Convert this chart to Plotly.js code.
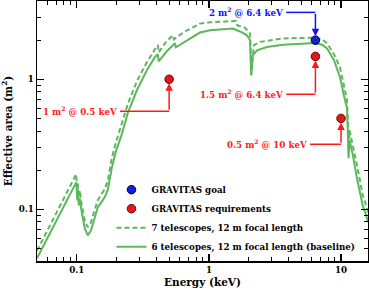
<!DOCTYPE html>
<html><head><meta charset="utf-8">
<script src="https://cdn.plot.ly/plotly-3.0.1.min.js"></script>
<style>html,body{margin:0;padding:0;background:#fff}#c{width:369px;height:290px}</style>
</head><body><div id="c"></div>
<script>
// 6 telescopes, 12 m focal length (baseline) - solid
const solidE = [0.05,0.099,0.101,0.102,0.1035,0.1053,0.109,0.115,0.121,0.128,0.135,0.144,0.155,0.163,0.172,0.184,0.197,0.219,0.243,0.285,0.339,0.390,0.411,0.417,0.480,0.553,0.562,0.645,0.757,0.855,1.02,1.21,1.52,1.63,1.78,1.94,2.05,2.09,2.15,2.31,2.75,3.63,4.88,6.35,7.2,7.86,8.85,9.81,10.5,11.1,11.3,11.4,11.6,12.3,13.2,13.9,14.6,15.5,16];
const solidA = [0.042,0.161,0.117,0.140,0.107,0.121,0.095,0.0713,0.063,0.0687,0.0822,0.1035,0.115,0.124,0.142,0.207,0.275,0.377,0.548,0.823,1.173,1.477,1.557,1.375,1.642,1.891,1.763,1.926,2.104,2.287,2.383,2.40,2.455,2.383,2.297,2.178,1.995,1.073,1.529,1.671,1.772,1.842,1.882,1.902,1.842,1.722,1.40,1.04,0.753,0.598,0.358,0.247,0.34,0.26,0.173,0.135,0.107,0.090,0.0794];
// 7 telescopes, 12 m focal length - dashed
const dashE = [0.05,0.099,0.101,0.102,0.1035,0.1053,0.109,0.115,0.121,0.128,0.135,0.144,0.155,0.163,0.172,0.184,0.197,0.219,0.243,0.285,0.339,0.390,0.411,0.417,0.472,0.533,0.543,0.645,0.757,0.855,1.02,1.21,1.49,1.60,1.64,1.87,2.05,2.09,2.19,2.44,3.63,4.88,6.35,7.2,7.86,8.85,9.81,10.5,11.1,11.3,11.4,11.6,12.3,13.2,13.9,14.6,15.5,16];
const dashA = [0.048,0.186,0.135,0.158,0.124,0.140,0.109,0.082,0.0727,0.0794,0.095,0.117,0.133,0.142,0.167,0.247,0.322,0.467,0.642,0.965,1.35,1.70,1.83,1.61,1.93,2.18,2.03,2.30,2.51,2.68,2.74,2.77,2.81,2.81,2.60,2.50,2.25,1.073,1.83,1.94,2.06,2.085,2.09,2.03,1.88,1.56,1.24,0.90,0.69,0.42,0.284,0.405,0.311,0.218,0.167,0.128,0.107,0.095];
// Requirement / goal points
const goalE = [6.4], goalA = [2];
const reqE = [0.5, 6.4, 10], reqA = [1, 1.5, 0.5];
const xTicks = [0.1, 1, 10], xTickText = ['0.1','1','10'];
const yTicks = [0.1, 1], yTickText = ['0.1','1'];
// callouts: label, point, elbow level, label end energy, colour
const callouts = [
  {text:'2 m<sup>2</sup> @ 6.4 keV', e:6.4, a:2, elbowA:3.27, textE:3.72, lineE:3.85, color:'#1010ff'},
  {text:'1.5 m<sup>2</sup> @ 6.4 keV', e:6.4, a:1.5, elbowA:0.767, textE:3.72, lineE:3.85, color:'#ff1a1a'},
  {text:'1 m<sup>2</sup> @ 0.5 keV', e:0.5, a:1, elbowA:0.567, textE:0.206, lineE:0.212, color:'#ff1a1a'},
  {text:'0.5 m<sup>2</sup> @ 10 keV', e:10, a:0.5, elbowA:0.316, textE:5.6, lineE:5.82, color:'#ff1a1a'}
];
const green = '#5cb85c';
const FONT = 'DejaVu Serif, serif';
const FS = 8.7;

const traces = [
  {x:solidE, y:solidA, mode:'lines', name:'6 telescopes, 12 m focal length (baseline)', line:{color:green, width:2}, legendrank:4},
  {x:dashE, y:dashA, mode:'lines', name:'7 telescopes, 12 m focal length', line:{color:green, width:2, dash:'5px,3px'}, legendrank:3},
  {x:reqE, y:reqA, mode:'markers', name:'GRAVITAS requirements', marker:{color:'#e3161c', size:8.5, line:{color:'#6a0000', width:1}}, legendrank:2},
  {x:goalE, y:goalA, mode:'markers', name:'GRAVITAS goal', marker:{color:'#1020e0', size:8.5, line:{color:'#000', width:1}}, legendrank:1}
];

const annotations = [], shapes = [];
callouts.forEach(c => {
  annotations.push({x:Math.log10(c.textE), y:Math.log10(c.elbowA), xref:'x', yref:'y', text:c.text, showarrow:false, xanchor:'right', yanchor:'middle', borderpad:0, font:{family:FONT, size:FS, color:c.color, weight:'bold'}});
  annotations.push({x:Math.log10(c.e), y:Math.log10(c.a), xref:'x', yref:'y', text:'', showarrow:true, axref:'pixel', ax:0, ayref:'y', ay:Math.log10(c.elbowA), arrowhead:2, arrowsize:1, arrowwidth:1.5, arrowcolor:c.color, standoff:4});
  shapes.push({type:'line', xref:'x', yref:'y', x0:c.lineE, x1:c.e, y0:c.elbowA, y1:c.elbowA, line:{color:c.color, width:1.5}});
});

const axisCommon = {type:'log', showline:true, linecolor:'#000', linewidth:1.5, mirror:'allticks', ticks:'inside', ticklen:7, tickwidth:1.2, tickcolor:'#000', showgrid:false, zeroline:false, tickfont:{family:FONT, size:FS, color:'#000', weight:'bold'}, minor:{ticks:'inside', ticklen:4, tickwidth:1, tickcolor:'#000', dtick:'D1', showgrid:false}};

const layout = {
  width:369, height:290, margin:{l:37, r:1, t:1, b:29},
  paper_bgcolor:'#fff', plot_bgcolor:'#fff',
  font:{family:FONT, size:FS, color:'#000', weight:'bold'},
  showlegend:true,
  legend:{x:0.225, y:0.33, xanchor:'left', yanchor:'top', bgcolor:'rgba(0,0,0,0)', font:{family:FONT, size:FS, color:'#000', weight:'bold'}, itemwidth:30, tracegroupgap:0},
  xaxis:Object.assign({}, axisCommon, {range:[Math.log10(0.05), Math.log10(16)], tickmode:'array', tickvals:xTicks, ticktext:xTickText, title:{text:'Energy (keV)', font:{family:FONT, size:10.5, weight:'bold'}, standoff:4}}),
  yaxis:Object.assign({}, axisCommon, {range:[Math.log10(0.04), Math.log10(4)], tickmode:'array', tickvals:yTicks, ticktext:yTickText, title:{text:'Effective area (m<sup>2</sup>)', font:{family:FONT, size:10.5, weight:'bold'}, standoff:4}}),
  annotations:annotations, shapes:shapes
};
Plotly.newPlot('c', traces, layout, {displayModeBar:false, staticPlot:true});
</script></body></html>
